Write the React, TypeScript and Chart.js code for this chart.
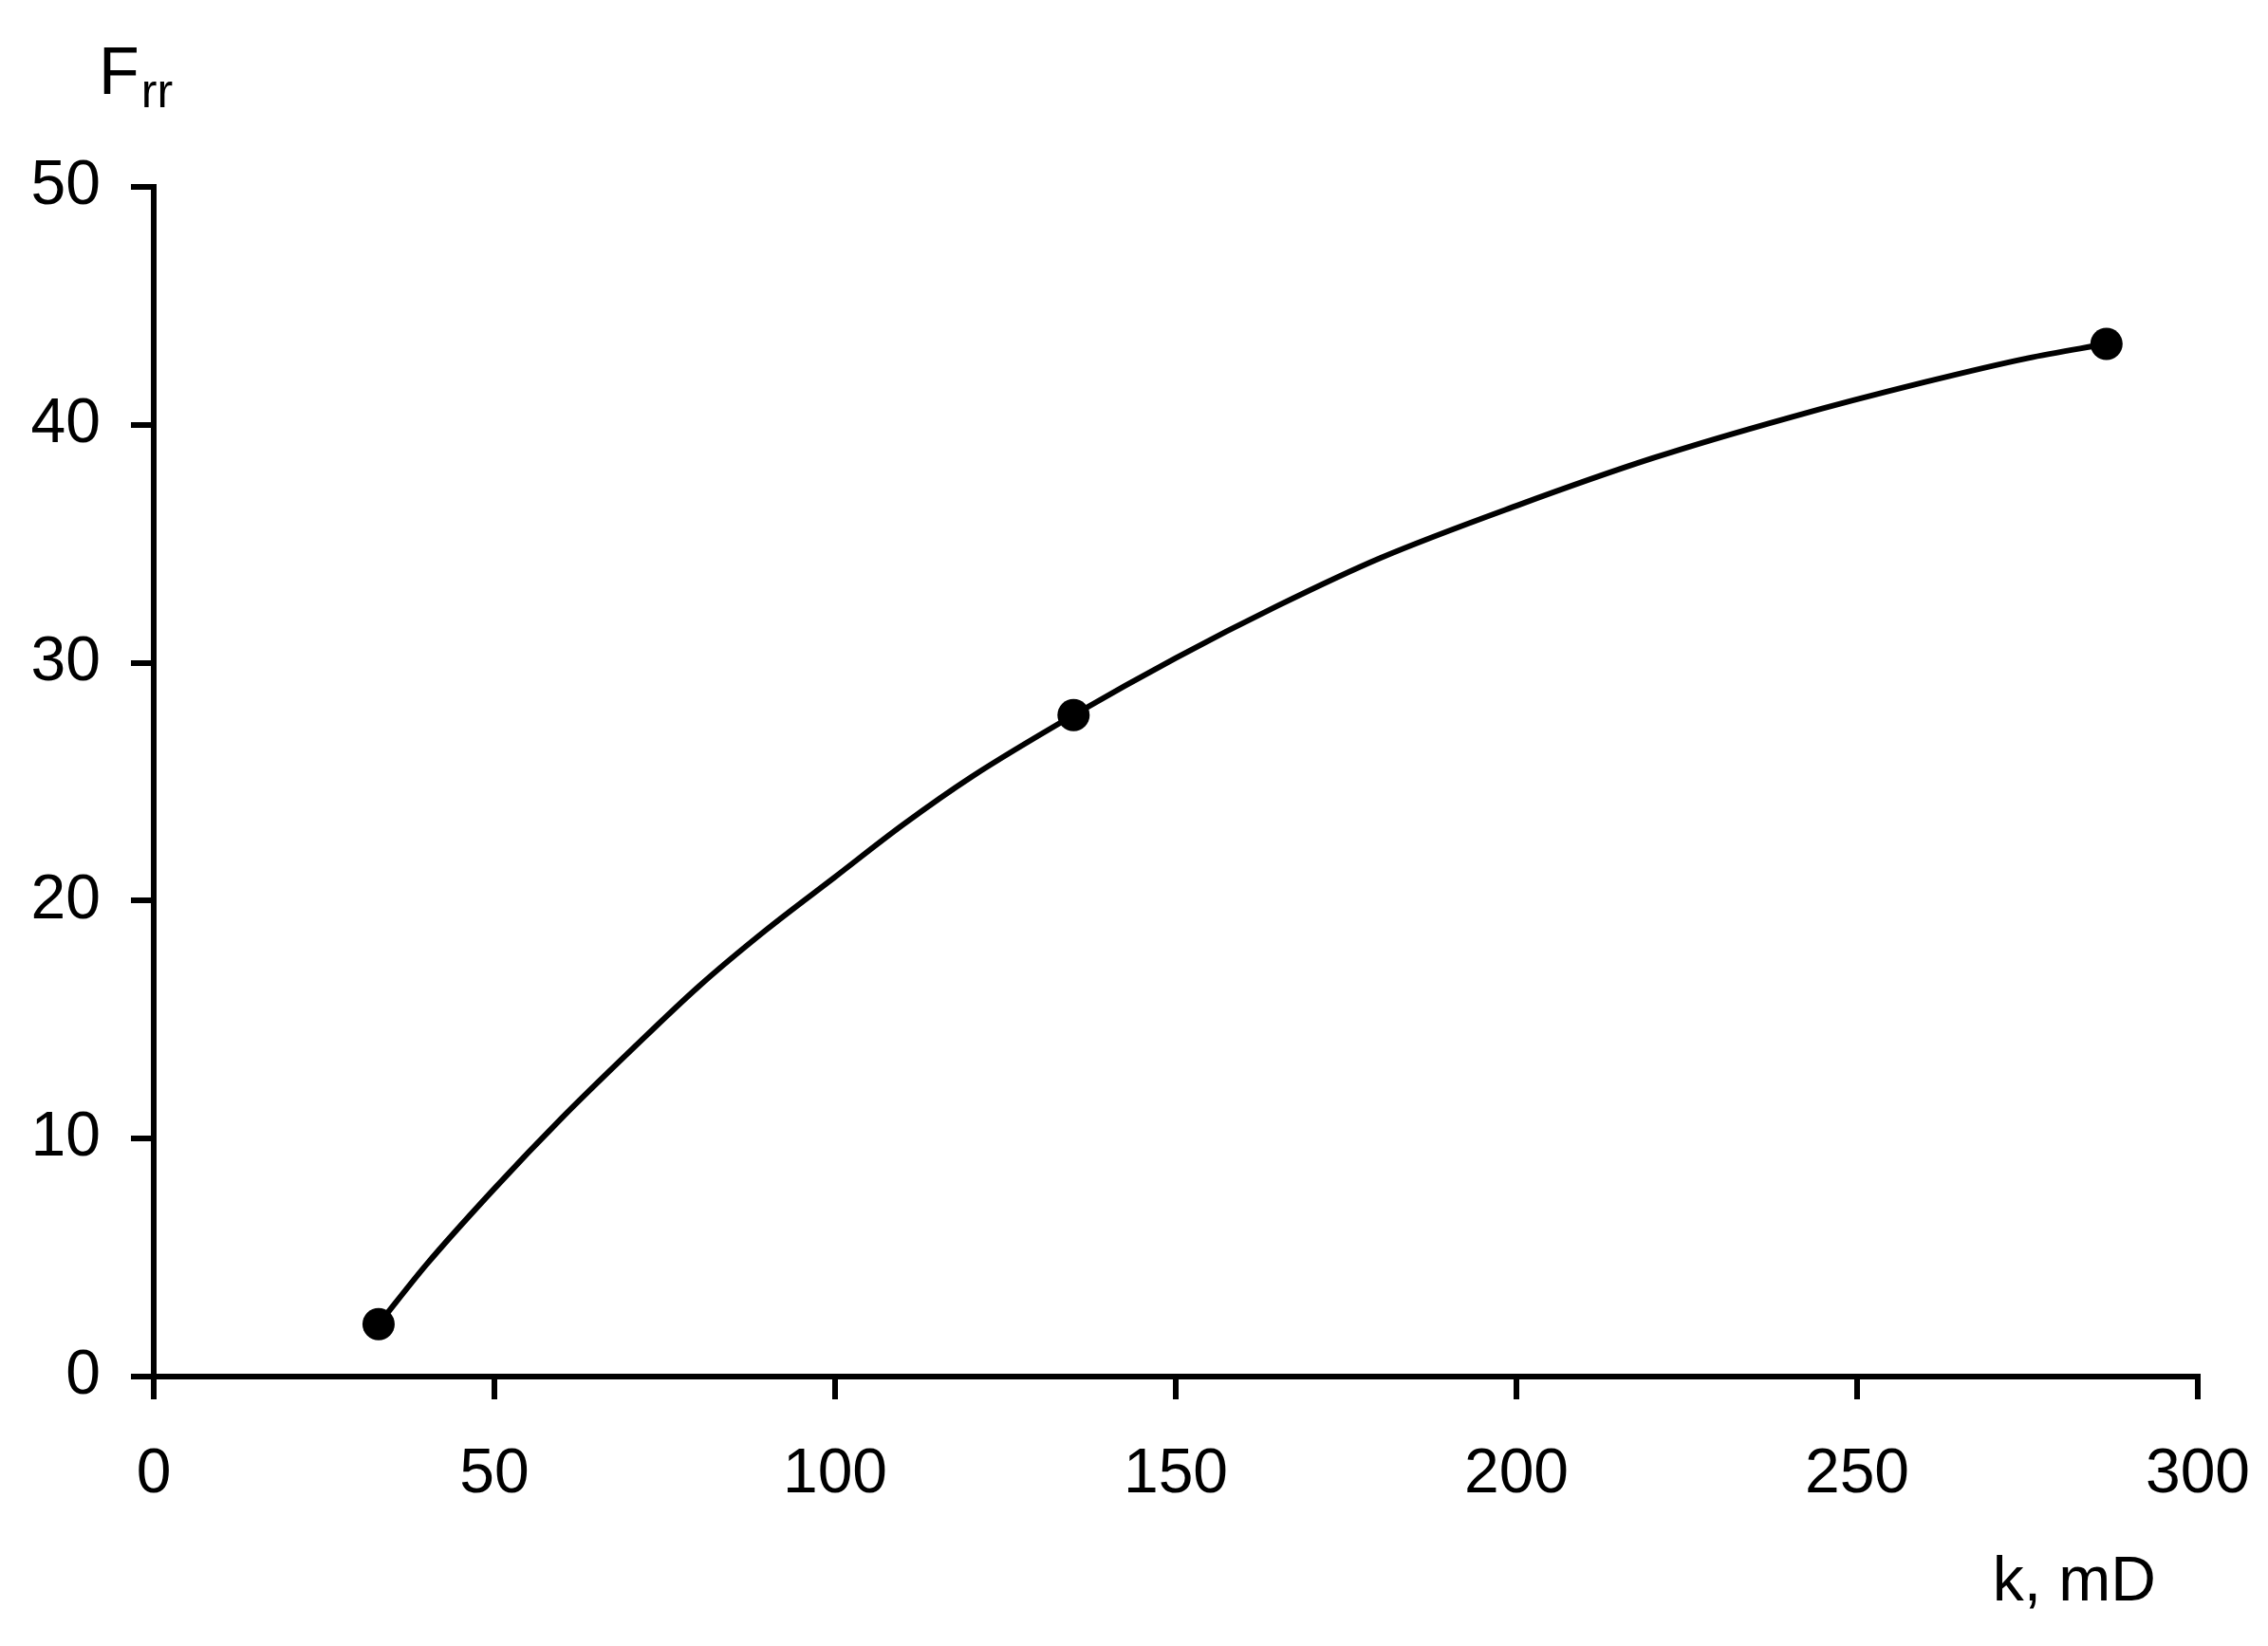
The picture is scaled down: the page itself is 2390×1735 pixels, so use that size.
import React, { useEffect, useRef } from "react";
import { Chart, registerables } from "chart.js";

Chart.register(...registerables);

// Smooth fitted curve
const kCurve = [33, 40, 50, 60, 70, 80, 90, 100, 110, 120, 135, 150, 165, 180, 200, 220, 240, 260, 275, 286.6];
const frrCurve = [2.2, 4.7, 7.9, 10.9, 13.7, 16.4, 18.8, 21.0, 23.2, 25.2, 27.8, 30.2, 32.4, 34.4, 36.6, 38.6, 40.3, 41.8, 42.8, 43.4];

// Measured points
const kPoints = [33, 135, 286.6];
const frrPoints = [2.2, 27.8, 43.4];

const xTicks = [0, 50, 100, 150, 200, 250, 300];
const yTicks = [0, 10, 20, 30, 40, 50];

const FONT = "'Liberation Sans', Arial, sans-serif";

const titlePlugin = {
  id: "axisTitles",
  afterDraw(chart: any) {
    const ctx = chart.ctx;
    ctx.save();
    ctx.fillStyle = "#000";
    ctx.textBaseline = "alphabetic";
    ctx.textAlign = "left";
    // y title F_rr
    ctx.font = `70px ${FONT}`;
    ctx.fillText("F", 104, 99);
    const fw = ctx.measureText("F").width;
    ctx.font = `50px ${FONT}`;
    ctx.fillText("rr", 104 + fw + 2, 113);
    // x title
    ctx.font = `66px ${FONT}`;
    ctx.textAlign = "right";
    ctx.fillText("k, mD", 2272, 1687);
    ctx.restore();
  },
};

export default function App() {
  const ref = useRef<HTMLCanvasElement>(null);
  useEffect(() => {
    if (!ref.current) return;
    const chart = new Chart(ref.current, {
      type: "scatter",
      data: {
        datasets: [
          {
            type: "line",
            data: kCurve.map((k, i) => ({ x: k, y: frrCurve[i] })),
            borderColor: "#000",
            borderWidth: 6,
            pointRadius: 0,
            tension: 0.4,
            cubicInterpolationMode: "monotone",
            fill: false,
          } as any,
          {
            type: "scatter",
            data: kPoints.map((k, i) => ({ x: k, y: frrPoints[i] })),
            backgroundColor: "#000",
            borderColor: "#000",
            pointRadius: 17,
            pointBorderWidth: 0,
            showLine: false,
          } as any,
        ],
      },
      options: {
        animation: false,
        responsive: false,
        devicePixelRatio: 1,
        clip: false as any,
        layout: { padding: { left: 0, top: 197, right: 74, bottom: 134 } },
        plugins: { legend: { display: false }, tooltip: { enabled: false } },
        scales: {
          x: {
            type: "linear",
            min: 0,
            max: 300,
            afterFit: (s: any) => {
              s.height = 150;
              s.paddingLeft = 0;
              s.paddingRight = 0;
            },
            afterBuildTicks: (s: any) => {
              s.ticks = xTicks.map((v) => ({ value: v }));
            },
            border: { display: true, color: "#000", width: 6 },
            grid: {
              display: true,
              drawOnChartArea: false,
              drawTicks: true,
              tickLength: 24,
              tickWidth: 6,
              color: "#000",
              lineWidth: 6,
            },
            ticks: {
              color: "#000",
              font: { size: 66, family: FONT },
              padding: 40,
              maxRotation: 0,
              autoSkip: false,
            },
          },
          y: {
            type: "linear",
            min: 0,
            max: 50,
            afterFit: (s: any) => {
              s.width = 162;
              s.paddingTop = 0;
              s.paddingBottom = 0;
            },
            afterBuildTicks: (s: any) => {
              s.ticks = yTicks.map((v) => ({ value: v }));
            },
            border: { display: true, color: "#000", width: 6 },
            grid: {
              display: true,
              drawOnChartArea: false,
              drawTicks: true,
              tickLength: 24,
              tickWidth: 6,
              color: "#000",
              lineWidth: 6,
            },
            ticks: {
              color: "#000",
              font: { size: 66, family: FONT },
              padding: 32,
              autoSkip: false,
            },
          },
        },
      },
      plugins: [titlePlugin],
    });
    return () => chart.destroy();
  }, []);
  return (
    <div style={{ position: "absolute", left: 0, top: 0, width: 2390, height: 1735, background: "#fff" }}>
      <canvas ref={ref} width={2390} height={1735} style={{ width: 2390, height: 1735 }} />
    </div>
  );
}
